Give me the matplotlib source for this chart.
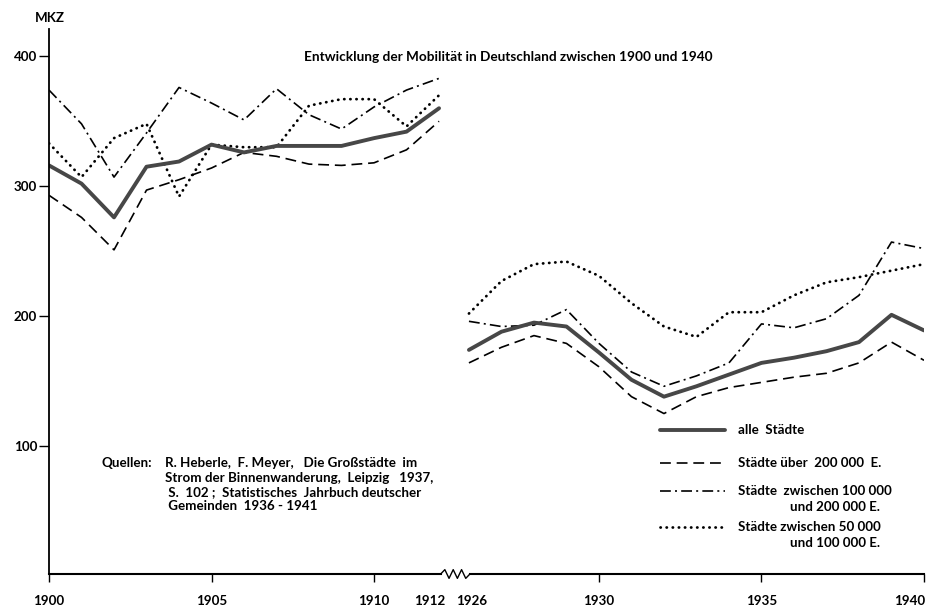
import matplotlib
matplotlib.use("Agg")
import matplotlib.pyplot as plt
import matplotlib.transforms as mtransforms
import numpy as np

W, H = 926, 607
plt.rcParams['font.family'] = ['Lato', 'DejaVu Sans']

# ---------------- data ----------------
years_a = [1900, 1901, 1902, 1903, 1904, 1905, 1906, 1907, 1908, 1909, 1910, 1911, 1912]
years_b = [1926, 1927, 1928, 1929, 1930, 1931, 1932, 1933, 1934, 1935, 1936, 1937, 1938, 1939, 1940]

alle_a   = [316, 302, 276, 315, 319, 332, 326, 331, 331, 331, 337, 342, 360]
ueber_a  = [293, 276, 251, 297, 305, 314, 326, 323, 317, 316, 318, 328, 350]
mittel_a = [374, 348, 307, 341, 376, 364, 351, 375, 355, 344, 361, 374, 383]
klein_a  = [333, 307, 337, 348, 292, 332, 330, 330, 362, 367, 367, 346, 370]

alle_b   = [174, 188, 195, 192, 172, 151, 138, 146, 155, 164, 168, 173, 180, 201, 189]
ueber_b  = [164, 176, 185, 179, 161, 138, 125, 138, 145, 149, 153, 156, 164, 180, 166]
mittel_b = [196, 192, 193, 205, 179, 157, 146, 154, 164, 194, 191, 198, 216, 257, 252]
klein_b  = [202, 227, 240, 242, 231, 210, 192, 184, 203, 203, 216, 226, 230, 235, 240]

tick_years = [1900, 1905, 1910, 1912, 1926, 1930, 1935, 1940]
y_ticks = [100, 200, 300, 400]

legend_labels = ["alle  Städte", "Städte über  200 000  E.",
                 "Städte  zwischen 100 000", "Städte zwischen 50 000"]
legend_second = [None, None, "und 200 000 E.", "und 100 000 E."]

title = "Entwicklung der Mobilität in Deutschland zwischen 1900 und 1940"
source_lines = ["R. Heberle,  F. Meyer,   Die Großstädte  im",
                "Strom der Binnenwanderung,  Leipzig   1937,",
                " S.  102 ;  Statistisches  Jahrbuch deutscher",
                " Gemeinden  1936 - 1941"]

GAP = 0.92  # visual gap (in year units) at the axis break
FS = 9.6


def pos(y):
    y = np.asarray(y, dtype=float)
    return np.where(y <= 1912, y - 1900, y - 1926 + 12 + GAP)


def fx(px):
    return px / W


def fy(py):
    return 1 - py / H


fig = plt.figure(figsize=(W / 100, H / 100), dpi=100)
ax = fig.add_axes([fx(49), fy(574), (924 - 49) / W, (574 - 29) / H])
ax.set_xlim(0, 26 + GAP)
ax.set_ylim(1.5, 421)

styles = {
    'alle': dict(color='#474747', lw=2.8, ls='-', solid_capstyle='round'),
    'ueber': dict(color='black', lw=1.2, ls=(0, (6.5, 3.5))),
    'mittel': dict(color='black', lw=1.2, ls=(0, (6.5, 2.5, 1.2, 2.5))),
    'klein': dict(color='black', lw=2.0, ls=(0, (0.1, 2.1)), dash_capstyle='round'),
}

series = [('ueber', ueber_a, ueber_b), ('mittel', mittel_a, mittel_b),
          ('klein', klein_a, klein_b), ('alle', alle_a, alle_b)]
for key, a, b in series:
    ax.plot(pos(years_a), a, **styles[key])
    ax.plot(pos(years_b), b, **styles[key])

# spines
for s in ['top', 'right', 'bottom']:
    ax.spines[s].set_visible(False)
ax.spines['left'].set_linewidth(1.3)

# bottom axis with break zigzag
tr = ax.get_xaxis_transform()
ax.plot([0, 12.05], [0, 0], color='black', lw=1.5, transform=tr, clip_on=False)
zx = np.linspace(12.05, 12.95, 8)
zy = np.array([0, 0.008, -0.008, 0.008, -0.008, 0.008, -0.008, 0])
ax.plot(zx, zy, color='black', lw=1.0, transform=tr, clip_on=False)
ax.plot([12.95, 26 + GAP], [0, 0], color='black', lw=1.5, transform=tr, clip_on=False)

ax.set_xticks(pos(tick_years))
ax.set_xticklabels([str(t) for t in tick_years], fontsize=FS, fontweight='bold')
ax.tick_params(axis='x', direction='out', length=6, width=1, pad=9)
shifts = {1912: -9, 1926: 3, 1940: -14}
for i, t in enumerate(tick_years):
    tk = ax.xaxis.get_major_ticks()[i]
    if t in (1912, 1926):
        tk.tick1line.set_visible(False)
    if t in shifts:
        off = mtransforms.ScaledTranslation(shifts[t] / 100, 0, fig.dpi_scale_trans)
        tk.label1.set_transform(tk.label1.get_transform() + off)

ax.set_yticks(y_ticks)
ax.set_yticklabels([str(t) for t in y_ticks], fontsize=FS, fontweight='bold')
ax.tick_params(axis='y', direction='out', length=7, width=1, pad=1.5)

fig.text(fx(35), fy(18), "MKZ", fontsize=FS, fontweight='bold', va='center', ha='left')
fig.text(fx(508), fy(57), title, fontsize=9.8, fontweight='bold', ha='center', va='center')

# sources
fig.text(fx(102), fy(463), "Quellen:", fontsize=FS, fontweight='bold', va='center', ha='left')
for i, line in enumerate(source_lines):
    fig.text(fx(165), fy(463 + 14.5 * i), line, fontsize=FS, fontweight='bold',
             va='center', ha='left')

# legend (drawn by hand to match the layout)
keys = ['alle', 'ueber', 'mittel', 'klein']
rows = [430, 463, 491, 527]
for key, lab, sec, ry in zip(keys, legend_labels, legend_second, rows):
    st = dict(styles[key])
    fig.add_artist(plt.Line2D([fx(660), fx(725)], [fy(ry), fy(ry)], transform=fig.transFigure,
                              **st))
    fig.text(fx(738), fy(ry), lab, fontsize=FS, fontweight='bold', va='center', ha='left')
    if sec:
        fig.text(fx(880), fy(ry + 16), sec, fontsize=FS, fontweight='bold',
                 va='center', ha='right')

fig.savefig("out.png", dpi=100)
